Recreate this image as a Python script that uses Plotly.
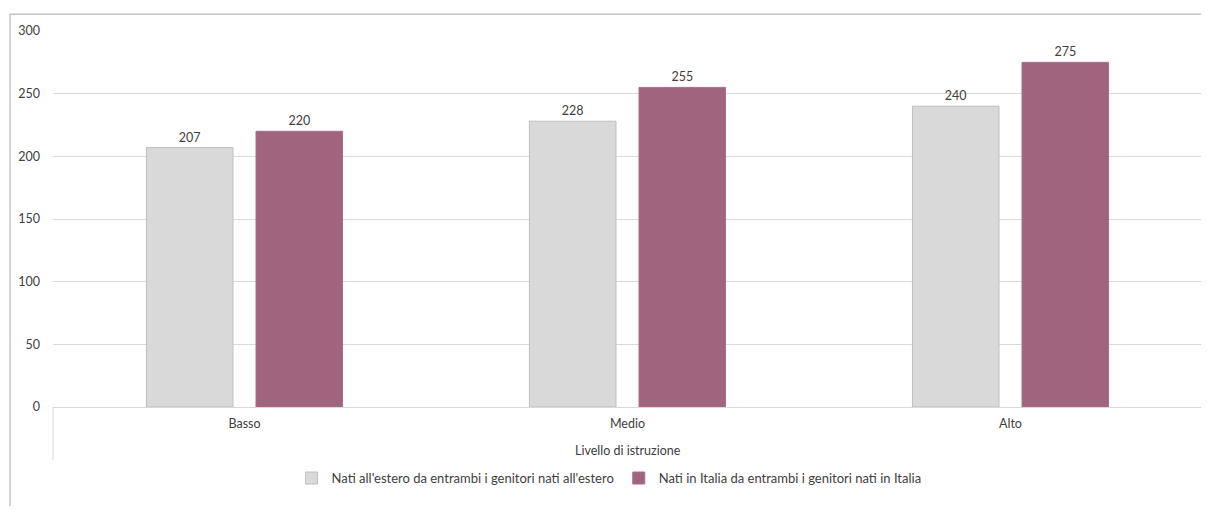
import plotly.graph_objects as go

categories = ["Basso", "Medio", "Alto"]
series_names = [
    "Nati all'estero da entrambi i genitori nati all'estero",
    "Nati in Italia da entrambi i genitori nati in Italia",
]
estero_values = [207, 228, 240]
italia_values = [220, 255, 275]
y_ticks = [0, 50, 100, 150, 200, 250, 300]
axis_title = "Livello di istruzione"

FONT = "Lato, Calibri, Carlito, sans-serif"
TXT = "#404040"

fig = go.Figure()
fig.add_trace(go.Bar(
    x=categories, y=estero_values, name=series_names[0],
    marker=dict(color="#D9D9D9", line=dict(color="#BFBFBF", width=1)),
    text=[str(v) for v in estero_values], textposition="outside",
    textfont=dict(size=12.5, color=TXT, family=FONT), cliponaxis=False,
))
fig.add_trace(go.Bar(
    x=categories, y=italia_values, name=series_names[1],
    marker=dict(color="#A0647F", line=dict(color="#A86E88", width=1)),
    text=[str(v) for v in italia_values], textposition="outside",
    textfont=dict(size=12.5, color=TXT, family=FONT), cliponaxis=False,
))

# page body has an 8px margin: size the figure so it fits the 1209x514 window
fig.update_layout(
    width=1201, height=498,
    margin=dict(l=45, r=7, t=23, b=99, autoexpand=False),
    paper_bgcolor="white", plot_bgcolor="white",
    font=dict(family=FONT, size=12.5, color=TXT),
    barmode="group", bargap=0.428, bargroupgap=0.21,
    showlegend=True,
    legend=dict(orientation="h", x=0.484, xanchor="center", y=-0.189, yanchor="middle",
                font=dict(size=13, color=TXT, family=FONT), itemwidth=30,
                tracegroupgap=0),
    xaxis=dict(showgrid=False, showline=True, linecolor="#D9D9D9", linewidth=1,
               ticks="", tickfont=dict(size=12.5, color=TXT), ticklabelstandoff=5,
               automargin=False),
    yaxis=dict(range=[0, 300], tickvals=y_ticks, showgrid=True, gridcolor="#D9D9D9",
               gridwidth=1, zeroline=False, showline=False, ticks="",
               tickfont=dict(size=12.5, color=TXT), ticklabelstandoff=12,
               automargin=False),
)

# category frame lines
for xp in [0, 1]:
    fig.add_shape(type="line", xref="paper", yref="paper", x0=xp, x1=xp, y0=0, y1=-0.141,
                  line=dict(color="#D9D9D9", width=1))
# outer chart frame (only top and left edges are visible in the window)
fig.add_shape(type="line", xref="paper", yref="paper", x0=-0.0374, x1=1.3, y0=1.045, y1=1.045,
              line=dict(color="#A6A6A6", width=1), layer="below")
fig.add_shape(type="line", xref="paper", yref="paper", x0=-0.0374, x1=-0.0374, y0=-0.6, y1=1.045,
              line=dict(color="#A6A6A6", width=1), layer="below")

fig.add_annotation(text=axis_title, xref="paper", yref="paper", x=0.5, y=-0.115,
                   showarrow=False, yanchor="middle", font=dict(size=12.5, color=TXT, family=FONT))

fig.write_html("out.html")
